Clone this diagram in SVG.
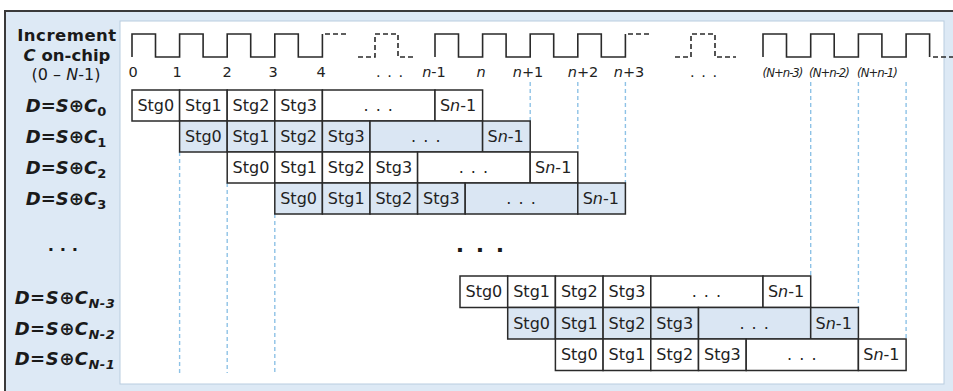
<svg xmlns="http://www.w3.org/2000/svg" width="953" height="391" viewBox="0 0 953 391">
<style>
.c{fill:#ffffff;stroke:#2a2a2a;stroke-width:1.5}
.b{fill:#dae6f3;stroke:#2a2a2a;stroke-width:1.5}
.t{font-family:"DejaVu Sans",Verdana,sans-serif;font-size:16px;fill:#222;text-anchor:middle}
.k{font-family:"DejaVu Sans",Verdana,sans-serif;font-size:14.5px;fill:#222;text-anchor:middle}
.kn{font-family:"DejaVu Sans Condensed","DejaVu Sans",sans-serif;font-size:13px;font-style:italic;letter-spacing:-1px;fill:#222;text-anchor:middle}
.l{font-family:"DejaVu Sans",Verdana,sans-serif;font-size:18px;font-weight:bold;font-style:italic;fill:#1a1a1a;text-anchor:middle}
.h{font-family:"DejaVu Sans",Verdana,sans-serif;font-size:16.5px;font-weight:bold;fill:#1a1a1a;text-anchor:middle}
.r{font-family:"DejaVu Sans",Verdana,sans-serif;font-size:16px;fill:#1a1a1a;text-anchor:middle}
.w{fill:none;stroke:#2a2a2a;stroke-width:1.6}
.wd{fill:none;stroke:#2a2a2a;stroke-width:1.6;stroke-dasharray:5 3}
.dl{stroke:#8ec2e6;stroke-width:1.4;stroke-dasharray:4 3}
.i{font-style:italic}
</style>
<rect x="0" y="0" width="953" height="391" fill="#ffffff"/>
<rect x="5" y="11" width="960" height="400" fill="#dde9f5" stroke="#3a3a3a" stroke-width="2"/>
<rect x="120" y="21" width="824" height="363" fill="#ffffff" stroke="#b9cde0" stroke-width="1"/>

<g id="legend">
<text class="h" x="67" y="41" letter-spacing="0.5">Increment</text>
<text class="h" x="67" y="61"><tspan class="i">C</tspan> on-chip</text>
<text class="r" x="66" y="80">(0 – <tspan class="i">N</tspan>-1)</text>
</g>

<g id="clock">
<path class="w" d="M132,57 V34 H155.5 V57 H179.6 V34 H203.1 V57 H227.2 V34 H250.7 V57 H274.8 V34 H298.3 V57 H322.4 V34"/>
<path class="wd" d="M325,34 H347"/>
<path class="wd" d="M358,57 H375 V34 H398 V57 H413"/>
<path class="w" d="M435,57 V34 H458.5 V57 H482.6 V34 H506.1 V57 H530.2 V34 H553.7 V57 H577.8 V34 H601.3 V57 H625.4 V34"/>
<path class="wd" d="M628,34 H651"/>
<path class="wd" d="M675,57 H691 V34 H715 V57 H736"/>
<path class="w" d="M763,57 V34 H786.5 V57 H810.7 V34 H834.2 V57 H858.4 V34 H881.9 V57 H906.1 V34 H929.6 V57"/>
<path class="wd" d="M933,57 H953"/>
<text class="k" x="133" y="77">0</text>
<text class="k" x="177" y="77">1</text>
<text class="k" x="227" y="77">2</text>
<text class="k" x="273" y="77">3</text>
<text class="k" x="321" y="77">4</text>
<text class="k" x="390" y="77" letter-spacing="1">. . .</text>
<text class="k" x="434" y="77"><tspan class="i">n</tspan>-1</text>
<text class="k" x="481" y="77"><tspan class="i">n</tspan></text>
<text class="k" x="528" y="77"><tspan class="i">n</tspan>+1</text>
<text class="k" x="583" y="77"><tspan class="i">n</tspan>+2</text>
<text class="k" x="629" y="77"><tspan class="i">n</tspan>+3</text>
<text class="k" x="704" y="77" letter-spacing="1">. . .</text>
<text class="kn" x="782.5" y="77">(N+n-3)</text>
<text class="kn" x="829" y="77">(N+n-2)</text>
<text class="kn" x="877" y="77">(N+n-1)</text>
</g>

<g id="connectors">
<line class="dl" x1="179.6" y1="152" x2="179.6" y2="373"/>
<line class="dl" x1="227.2" y1="183" x2="227.2" y2="373"/>
<line class="dl" x1="274.8" y1="214" x2="274.8" y2="373"/>
<line class="dl" x1="530.2" y1="82" x2="530.2" y2="121"/>
<line class="dl" x1="577.8" y1="82" x2="577.8" y2="152"/>
<line class="dl" x1="625.4" y1="82" x2="625.4" y2="183"/>
<line class="dl" x1="810.7" y1="82" x2="810.7" y2="276"/>
<line class="dl" x1="858.4" y1="82" x2="858.4" y2="307.5"/>
<line class="dl" x1="906.1" y1="82" x2="906.1" y2="339"/>
</g>

<g id="label-c0"><text class="l" x="66" y="112">D=S<tspan font-style="normal">⊕</tspan>C<tspan dy="4" font-size="13" font-style="normal">0</tspan></text></g>
<g id="label-c1"><text class="l" x="66" y="143">D=S<tspan font-style="normal">⊕</tspan>C<tspan dy="4" font-size="13" font-style="normal">1</tspan></text></g>
<g id="label-c2"><text class="l" x="66" y="174">D=S<tspan font-style="normal">⊕</tspan>C<tspan dy="4" font-size="13" font-style="normal">2</tspan></text></g>
<g id="label-c3"><text class="l" x="66" y="205">D=S<tspan font-style="normal">⊕</tspan>C<tspan dy="4" font-size="13" font-style="normal">3</tspan></text></g>
<g id="label-dots"><text class="h" x="63" y="251">. . .</text></g>
<g id="label-cn3"><text class="l" x="65" y="304" letter-spacing="0.5">D=S<tspan font-style="normal">⊕</tspan>C<tspan dy="4" font-size="13">N-3</tspan></text></g>
<g id="label-cn2"><text class="l" x="65" y="335" letter-spacing="0.5">D=S<tspan font-style="normal">⊕</tspan>C<tspan dy="4" font-size="13">N-2</tspan></text></g>
<g id="label-cn1"><text class="l" x="65" y="365" letter-spacing="0.5">D=S<tspan font-style="normal">⊕</tspan>C<tspan dy="4" font-size="13">N-1</tspan></text></g>

<g id="row-c0">
<rect class="c" x="132" y="90" width="47.6" height="31"/><text class="t" x="155.8" y="111">Stg0</text>
<rect class="c" x="179.6" y="90" width="47.6" height="31"/><text class="t" x="203.4" y="111">Stg1</text>
<rect class="c" x="227.2" y="90" width="47.6" height="31"/><text class="t" x="251" y="111">Stg2</text>
<rect class="c" x="274.8" y="90" width="47.6" height="31"/><text class="t" x="298.6" y="111">Stg3</text>
<rect class="c" x="322.4" y="90" width="112.6" height="31"/><text class="t" x="378.7" y="111" letter-spacing="1">. . .</text>
<rect class="c" x="435" y="90" width="47.6" height="31"/><text class="t" x="458" y="111">S<tspan class="i">n</tspan>-1</text>
</g>
<g id="row-c1">
<rect class="b" x="179.6" y="121" width="47.6" height="31"/><text class="t" x="203.4" y="142">Stg0</text>
<rect class="b" x="227.2" y="121" width="47.6" height="31"/><text class="t" x="251" y="142">Stg1</text>
<rect class="b" x="274.8" y="121" width="47.6" height="31"/><text class="t" x="298.6" y="142">Stg2</text>
<rect class="b" x="322.4" y="121" width="47.6" height="31"/><text class="t" x="346.2" y="142">Stg3</text>
<rect class="b" x="370" y="121" width="112.6" height="31"/><text class="t" x="426.3" y="142" letter-spacing="1">. . .</text>
<rect class="b" x="482.6" y="121" width="47.6" height="31"/><text class="t" x="505.6" y="142">S<tspan class="i">n</tspan>-1</text>
</g>
<g id="row-c2">
<rect class="c" x="227.2" y="152" width="47.6" height="31"/><text class="t" x="251" y="173">Stg0</text>
<rect class="c" x="274.8" y="152" width="47.6" height="31"/><text class="t" x="298.6" y="173">Stg1</text>
<rect class="c" x="322.4" y="152" width="47.6" height="31"/><text class="t" x="346.2" y="173">Stg2</text>
<rect class="c" x="370" y="152" width="47.6" height="31"/><text class="t" x="393.8" y="173">Stg3</text>
<rect class="c" x="417.6" y="152" width="112.6" height="31"/><text class="t" x="473.9" y="173" letter-spacing="1">. . .</text>
<rect class="c" x="530.2" y="152" width="47.6" height="31"/><text class="t" x="553.2" y="173">S<tspan class="i">n</tspan>-1</text>
</g>
<g id="row-c3">
<rect class="b" x="274.8" y="183" width="47.6" height="31"/><text class="t" x="298.6" y="204">Stg0</text>
<rect class="b" x="322.4" y="183" width="47.6" height="31"/><text class="t" x="346.2" y="204">Stg1</text>
<rect class="b" x="370" y="183" width="47.6" height="31"/><text class="t" x="393.8" y="204">Stg2</text>
<rect class="b" x="417.6" y="183" width="47.6" height="31"/><text class="t" x="441.4" y="204">Stg3</text>
<rect class="b" x="465.2" y="183" width="112.6" height="31"/><text class="t" x="521.5" y="204" letter-spacing="1">. . .</text>
<rect class="b" x="577.8" y="183" width="47.6" height="31"/><text class="t" x="600.8" y="204">S<tspan class="i">n</tspan>-1</text>
</g>

<g id="middle-dots"><text class="h" x="481" y="252" style="font-size:22px" letter-spacing="2">. . .</text></g>

<g id="row-cn3">
<rect class="c" x="460" y="276" width="47.7" height="31.5"/><text class="t" x="483.9" y="297">Stg0</text>
<rect class="c" x="507.7" y="276" width="47.7" height="31.5"/><text class="t" x="531.6" y="297">Stg1</text>
<rect class="c" x="555.4" y="276" width="47.7" height="31.5"/><text class="t" x="579.3" y="297">Stg2</text>
<rect class="c" x="603.1" y="276" width="47.7" height="31.5"/><text class="t" x="627" y="297">Stg3</text>
<rect class="c" x="650.8" y="276" width="112.2" height="31.5"/><text class="t" x="706.9" y="297" letter-spacing="1">. . .</text>
<rect class="c" x="763" y="276" width="47.7" height="31.5"/><text class="t" x="786" y="297">S<tspan class="i">n</tspan>-1</text>
</g>
<g id="row-cn2">
<rect class="b" x="507.7" y="307.5" width="47.7" height="31.5"/><text class="t" x="531.6" y="328.5">Stg0</text>
<rect class="b" x="555.4" y="307.5" width="47.7" height="31.5"/><text class="t" x="579.3" y="328.5">Stg1</text>
<rect class="b" x="603.1" y="307.5" width="47.7" height="31.5"/><text class="t" x="627" y="328.5">Stg2</text>
<rect class="b" x="650.8" y="307.5" width="47.7" height="31.5"/><text class="t" x="674.7" y="328.5">Stg3</text>
<rect class="b" x="698.5" y="307.5" width="112.2" height="31.5"/><text class="t" x="754.6" y="328.5" letter-spacing="1">. . .</text>
<rect class="b" x="810.7" y="307.5" width="47.7" height="31.5"/><text class="t" x="833.7" y="328.5">S<tspan class="i">n</tspan>-1</text>
</g>
<g id="row-cn1">
<rect class="c" x="555.4" y="339" width="47.7" height="31.5"/><text class="t" x="579.3" y="360">Stg0</text>
<rect class="c" x="603.1" y="339" width="47.7" height="31.5"/><text class="t" x="627" y="360">Stg1</text>
<rect class="c" x="650.8" y="339" width="47.7" height="31.5"/><text class="t" x="674.7" y="360">Stg2</text>
<rect class="c" x="698.5" y="339" width="47.7" height="31.5"/><text class="t" x="722.4" y="360">Stg3</text>
<rect class="c" x="746.2" y="339" width="112.2" height="31.5"/><text class="t" x="802.3" y="360" letter-spacing="1">. . .</text>
<rect class="c" x="858.4" y="339" width="47.7" height="31.5"/><text class="t" x="881.4" y="360">S<tspan class="i">n</tspan>-1</text>
</g>
</svg>
